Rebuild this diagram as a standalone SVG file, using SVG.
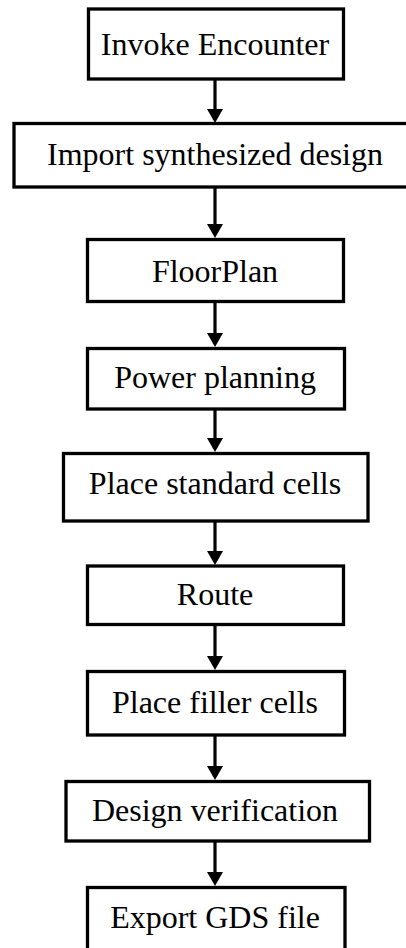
<svg xmlns="http://www.w3.org/2000/svg" width="406" height="948" viewBox="0 0 406 948">
  <style>
    .box { fill: #ffffff; stroke: #000000; stroke-width: 3.3; }
    .label { font-family: "Liberation Serif", "Times New Roman", serif; font-size: 32px; fill: #000000; text-anchor: middle; }
    .link { stroke: #000000; stroke-width: 3.2; fill: none; marker-end: url(#head); }
  </style>
  <defs>
    <marker id="head" markerUnits="userSpaceOnUse" viewBox="0 0 14 16" markerWidth="14" markerHeight="16" refX="4" refY="8" orient="auto">
      <path d="M0,0 L14,8 L0,16 Z" fill="#000000"/>
    </marker>
  </defs>
  <rect width="406" height="948" fill="#ffffff"/>

  <g id="connectors">
    <line class="link" x1="215" y1="80" x2="215" y2="113"/>
    <line class="link" x1="215" y1="188" x2="215" y2="228"/>
    <line class="link" x1="215" y1="302" x2="215" y2="337"/>
    <line class="link" x1="215" y1="410" x2="215" y2="442"/>
    <line class="link" x1="215" y1="522" x2="215" y2="555"/>
    <line class="link" x1="215" y1="625" x2="215" y2="660"/>
    <line class="link" x1="215" y1="736" x2="215" y2="770"/>
    <line class="link" x1="215" y1="842" x2="215" y2="876"/>
  </g>

  <g id="invoke-encounter">
    <rect class="box" x="88.5" y="9" width="255" height="70"/>
    <text class="label" x="215" y="55">Invoke Encounter</text>
  </g>
  <g id="import-design">
    <rect class="box" x="14" y="123.5" width="400" height="63.5"/>
    <text class="label" x="215" y="165">Import synthesized design</text>
  </g>
  <g id="floorplan">
    <rect class="box" x="87.5" y="239.5" width="256" height="62"/>
    <text class="label" x="215" y="281.5">FloorPlan</text>
  </g>
  <g id="power-planning">
    <rect class="box" x="87.5" y="348.5" width="257" height="60.5"/>
    <text class="label" x="215" y="387.5">Power planning</text>
  </g>
  <g id="place-standard-cells">
    <rect class="box" x="63.5" y="453.5" width="304.5" height="67.5"/>
    <text class="label" x="215" y="494">Place standard cells</text>
  </g>
  <g id="route">
    <rect class="box" x="87.5" y="566" width="256" height="58.5"/>
    <text class="label" x="215" y="605">Route</text>
  </g>
  <g id="place-filler-cells">
    <rect class="box" x="87.5" y="671.5" width="257" height="63.5"/>
    <text class="label" x="215" y="712.5">Place filler cells</text>
  </g>
  <g id="design-verification">
    <rect class="box" x="66" y="781.5" width="303.5" height="59.5"/>
    <text class="label" x="215" y="820.5">Design verification</text>
  </g>
  <g id="export-gds">
    <rect class="box" x="87.5" y="887.5" width="257.5" height="80"/>
    <text class="label" x="215" y="928">Export GDS file</text>
  </g>
</svg>
